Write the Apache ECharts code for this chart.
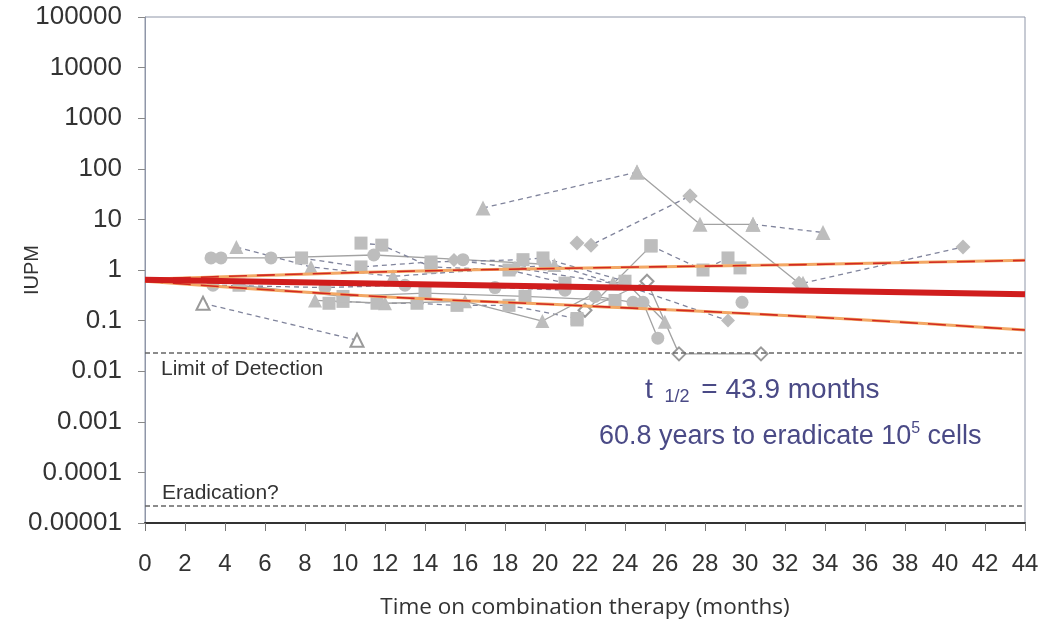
<!DOCTYPE html>
<html><head><meta charset="utf-8">
<script src="https://cdn.jsdelivr.net/npm/echarts/dist/echarts.min.js"></script>
<style>html,body{margin:0;padding:0;background:#fff}#c{width:1044px;height:628px}</style>
</head><body><div id="c"></div>
<script>
// ---- axis ticks ----
const yTickLabels = ['0.00001','0.0001','0.001','0.01','0.1','1','10','100','1000','10000','100000'];
const xMin = 0, xMax = 44, xStep = 2;
// ---- reference lines ----
const limitOfDetection = 0.023;
const eradicationLevel = 0.000022;
// ---- regression fit and confidence bounds (month, IUPM) ----
const fitLine = [[0,0.64],[44,0.33]];
const upperBound = [[0,0.66],[11,0.9],[22,1.1],[33,1.28],[44,1.55]];
const lowerBound = [[0,0.6],[11,0.31],[22,0.195],[33,0.12],[44,0.065]];
// ---- individual patients (month, IUPM) ----
const pA1 = [[16.9,16.8],[24.6,86]];
const pA2 = [[24.6,86],[27.75,8],[30.4,8]];
const pA3 = [[30.4,8],[33.9,5.5]];
const pB1 = [[21.6,3.4],[22.3,3.1],[27.25,29]];
const pB2 = [[27.25,29],[32.7,0.55]];
const pC  = [[32.9,0.55],[40.9,2.85]];
const pD  = [[2.9,0.22],[10.6,0.041]];
const pE  = [[22.0,0.16],[25.1,0.6],[26.7,0.022],[30.8,0.022]];
const pF1 = [[21.6,0.103],[25.3,3.0]];
const pF2 = [[25.3,3.0],[27.9,1.0],[29.15,1.73],[29.75,1.1]];
const pG  = [[3.3,1.73],[3.8,1.73],[6.3,1.73],[11.44,1.98],[15.9,1.6],[20.0,1.3]];
const pH  = [[4.57,2.85],[8.3,1.15],[12.4,0.75],[20.47,1.26],[23.4,0.55]];
const pI  = [[7.83,1.73],[10.8,1.15],[14.3,1.44],[18.9,1.6],[19.9,1.73],[24.0,0.6]];
const pJ  = [[10.8,3.4],[11.84,3.1],[14.3,1.15],[18.2,1.0],[21.0,0.55]];
const pK  = [[15.45,1.58],[18.5,1.1],[23.98,0.5],[29.15,0.1]];
const pL  = [[9.2,0.22],[9.9,0.24],[11.6,0.22],[13.6,0.22],[15.6,0.2],[18.2,0.2],[21.6,0.11]];
const pM  = [[8.5,0.25],[12.0,0.22],[16.0,0.24],[19.87,0.098],[22.5,0.35]];
const pN  = [[22.5,0.3],[24.4,0.23],[24.9,0.23],[25.64,0.045]];
const pO  = [[23.4,0.55],[24.0,0.6],[25.99,0.095]];
const pP  = [[29.85,0.23]];
const pQ  = [[3.4,0.5],[9.0,0.45],[13.0,0.5],[17.5,0.45],[21.0,0.4]];
const pR  = [[4.7,0.5],[9.9,0.3],[14.0,0.35],[19.0,0.3],[23.5,0.25]];

const MARK = '#bdbdbd', DASHC = '#80849c', SOLIDC = '#a2a2a2';
const FONT = 'Liberation Sans, Arial, sans-serif';
function pt(data, symbol, dashed, size) {
  const open = String(symbol).startsWith('empty');
  return {
    type: 'line', data: data, symbol: symbol, symbolSize: size || 13,
    showSymbol: true, silent: true, z: 3,
    lineStyle: { color: dashed ? DASHC : SOLIDC, width: 1.3, type: dashed ? [5,4] : 'solid' },
    itemStyle: { color: open ? '#9a9a9a' : MARK, borderColor: open ? '#9a9a9a' : MARK, borderWidth: open ? 1.2 : 0 }
  };
}
function fit(data, color, width, dash, z) {
  return { type:'line', data:data, symbol:'none', smooth:true, silent:true, z:z,
    lineStyle:{ color:color, width:width, type: dash || 'solid' } };
}
const series = [
  pt(pA1,'triangle',true,15), pt(pA2,'triangle',false,15), pt(pA3,'triangle',true,15),
  pt(pB1,'diamond',true,15), pt(pB2,'diamond',false,15),
  Object.assign(pt(pC,'diamond',true,15), {symbol:(v,p)=>p.dataIndex===0?'triangle':'diamond'}),
  pt(pD,'emptyTriangle',true,13),
  pt(pE,'emptyDiamond',false,13),
  pt(pF1,'rect',false,13), pt(pF2,'rect',true,13),
  pt(pG,'circle',false,13), pt(pH,'triangle',true,14), pt(pI,'rect',true,13),
  pt(pJ,'rect',true,13), pt(pK,'diamond',true,14), pt(pL,'rect',true,13),
  pt(pM,'triangle',false,14), pt(pN,'circle',false,13), pt(pO,'triangle',false,14),
  pt(pP,'circle',false,13), pt(pQ,'circle',true,13), pt(pR,'rect',false,13),
  fit(upperBound,'#f3a865',3,null,5), fit(upperBound,'#d22a22',1.6,[18,10],6),
  fit(lowerBound,'#f3a865',3,null,5), fit(lowerBound,'#d22a22',1.6,[18,10],6),
  Object.assign(fit(fitLine,'#d01d1d',6,null,7), {
    markLine: {
      silent:true, symbol:'none',
      lineStyle:{ color:'#666', width:1.5, type:[5,3] },
      label:{ show:true, color:'#333', fontSize:21, fontFamily:FONT },
      data: [
        [{coord:[xMin,limitOfDetection], label:{formatter:'Limit of Detection', position:'insideStartBottom', distance:[16,6]}},
         {coord:[xMax,limitOfDetection]}],
        [{coord:[xMin,eradicationLevel], label:{formatter:'Eradication?', position:'insideStartTop', distance:[17,2]}},
         {coord:[xMax,eradicationLevel]}]
      ]
    }
  })
];

const chart = echarts.init(document.getElementById('c'), null, {renderer:'canvas'});
chart.setOption({
  animation:false,
  backgroundColor:'#fff',
  grid:{ left:145, right:19, top:17, bottom:105, show:true, borderColor:'#8f96a8', borderWidth:1,
         containLabel:false, outerBoundsMode:'none' },
  xAxis:{
    type:'value', min:xMin, max:xMax, interval:xStep,
    name:'Time on combination therapy (months)', nameLocation:'middle', nameGap:73,
    nameMoveOverlap:false,
    nameTextStyle:{ fontSize:22.5, color:'#333', fontFamily:'Open Sans, sans-serif' },
    axisLine:{ show:true, lineStyle:{ color:'#333', width:2 } },
    axisTick:{ show:true, length:8, lineStyle:{ color:'#777' } },
    axisLabel:{ fontSize:24, color:'#333', margin:29, fontFamily:FONT },
    splitLine:{ show:false }
  },
  yAxis:{
    type:'log', logBase:10, min:0.00001, max:100000, interval:1,
    name:'IUPM', nameLocation:'middle', nameGap:103, nameMoveOverlap:false,
    nameTextStyle:{ fontSize:20, color:'#333', fontFamily:FONT },
    axisLine:{ show:true, lineStyle:{ color:'#8f96a8', width:1 } },
    axisTick:{ show:true, length:7, lineStyle:{ color:'#888' } },
    axisLabel:{ fontSize:26, color:'#333', margin:23, fontFamily:FONT, interval:0, hideOverlap:false,
      formatter:v => yTickLabels[Math.round(Math.log10(v)) + 5] },
    splitLine:{ show:false }
  },
  graphic:[
    { type:'text', left:645, top:376, silent:true,
      style:{ text:'{a|t }{s|1/2}{a| = 43.9 months}', fill:'#4a4a86',
        rich:{ a:{ fontSize:28, lineHeight:32, fill:'#4a4a86', fontFamily:FONT },
               s:{ fontSize:18, lineHeight:14, verticalAlign:'bottom', padding:[0,4,0,4], fill:'#4a4a86', fontFamily:FONT } } } },
    { type:'text', left:599, top:421, silent:true,
      style:{ text:'{a|60.8 years to eradicate 10}{p|5}{a| cells}', fill:'#4a4a86',
        rich:{ a:{ fontSize:27, lineHeight:32, fill:'#4a4a86', fontFamily:FONT },
               p:{ fontSize:16, lineHeight:12, verticalAlign:'top', fill:'#4a4a86', fontFamily:FONT } } } }
  ],
  series: series
});
</script></body></html>
